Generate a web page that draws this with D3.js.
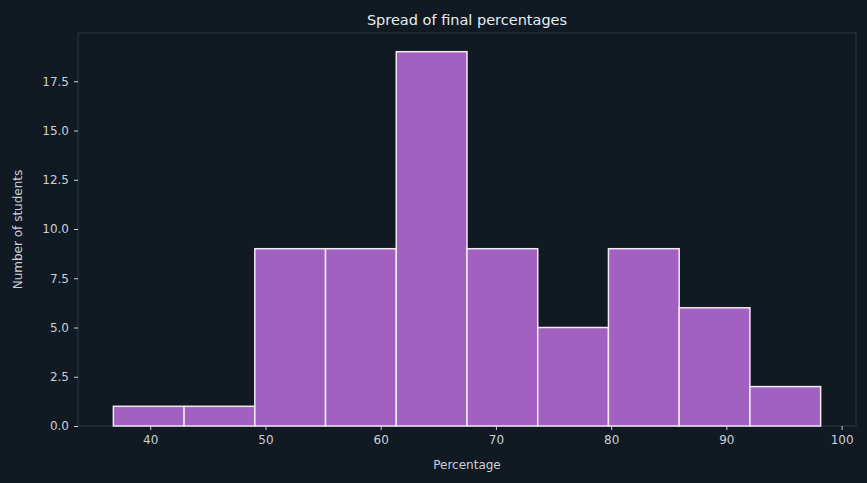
<!DOCTYPE html>
<html>
<head>
<meta charset="UTF-8">
<script src="https://d3js.org/d3.v7.min.js"></script>
<style>
  body { margin: 0; background: #111922; }
  text { font-family: "DejaVu Sans", sans-serif; }
</style>
</head>
<body>
<svg id="chart" width="867" height="483"></svg>
<script>
// Histogram bins
const binStart = 36.8;
const binWidth = 6.138;
const counts = [1, 1, 9, 9, 19, 9, 5, 9, 6, 2];
const xTicks = [40, 50, 60, 70, 80, 90, 100];
const yTicks = [0, 2.5, 5, 7.5, 10, 12.5, 15, 17.5];

const margin = {top: 33, right: 11, bottom: 57, left: 78};
const width = 867 - margin.left - margin.right,
      height = 483 - margin.top - margin.bottom;

const bins = counts.map((c, i) => ({x0: binStart + i * binWidth, x1: binStart + (i + 1) * binWidth, n: c}));
const span = bins[bins.length - 1].x1 - binStart;

const x = d3.scaleLinear()
    .domain([binStart - span * 0.05, binStart + span * 1.05])
    .range([0, width]);
const y = d3.scaleLinear()
    .domain([0, d3.max(counts) * 1.05])
    .range([height, 0]);

const svg = d3.select("#chart");
svg.append("rect").attr("width", 867).attr("height", 483).attr("fill", "#111922");
const g = svg.append("g").attr("transform", `translate(${margin.left},${margin.top})`);

g.append("rect").attr("width", width).attr("height", height)
    .attr("fill", "none").attr("stroke", "#2c3842");

g.selectAll("rect.bar")
    .data(bins)
    .enter().append("rect")
    .attr("class", "bar")
    .attr("x", d => x(d.x0))
    .attr("y", d => y(d.n))
    .attr("width", d => x(d.x1) - x(d.x0))
    .attr("height", d => y(0) - y(d.n))
    .attr("fill", "#a260c1")
    .attr("stroke", "#f0eaf4")
    .attr("stroke-width", 1.5);

const xAxis = g.append("g").attr("transform", `translate(0,${height})`)
    .call(d3.axisBottom(x).tickValues(xTicks).tickSize(4).tickPadding(5));
const yAxis = g.append("g")
    .call(d3.axisLeft(y).tickValues(yTicks).tickSize(4).tickPadding(5).tickFormat(d3.format(".1f")));
[xAxis, yAxis].forEach(a => {
  a.select(".domain").remove();
  a.selectAll("line").attr("stroke", "#c9d1d9");
  a.selectAll("text").attr("fill", "#c9d1d9").style("font-size", "12px");
});

svg.append("text").attr("x", margin.left + width / 2).attr("y", 25)
    .attr("text-anchor", "middle").attr("fill", "#e6edf3").style("font-size", "14.5px")
    .text("Spread of final percentages");
svg.append("text").attr("x", margin.left + width / 2).attr("y", 469)
    .attr("text-anchor", "middle").attr("fill", "#c9d1d9").style("font-size", "12px")
    .text("Percentage");
svg.append("text").attr("transform", `translate(22,${margin.top + height / 2}) rotate(-90)`)
    .attr("text-anchor", "middle").attr("fill", "#c9d1d9").style("font-size", "12px")
    .text("Number of students");
</script>
</body>
</html>
